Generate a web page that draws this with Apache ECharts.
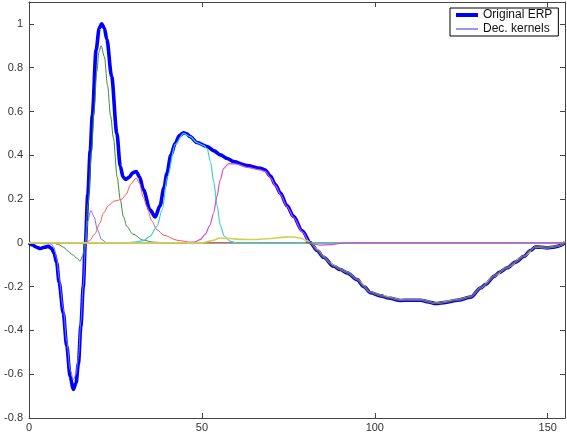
<!DOCTYPE html>
<html>
<head>
<meta charset="utf-8">
<script src="https://cdn.jsdelivr.net/npm/echarts@6/dist/echarts.min.js"></script>
<style>html,body{margin:0;padding:0;background:#fff}#c{width:567px;height:434px}</style>
</head>
<body>
<div id="c"></div>
<script>
// Axis settings
const xTicks = [0, 50, 100, 150];
const yTicks = [-0.8, -0.6, -0.4, -0.2, 0, 0.2, 0.4, 0.6, 0.8, 1];

// Original ERP [time, amplitude]
const erp = [[0,0],[1,-0.01],[2.2,-0.02],[3.2,-0.026],[4.5,-0.02],[5.6,-0.016],[6.5,-0.025],[7.2,-0.045],[8,-0.09],[8.7,-0.18],[9.9,-0.32],[10.9,-0.47],[11.9,-0.61],[12.8,-0.67],[13.6,-0.64],[14.3,-0.55],[15,-0.38],[15.7,-0.2],[16.3,0],[17,0.22],[17.7,0.42],[18.3,0.58],[19.4,0.88],[20.3,0.98],[21,1.0],[21.8,0.98],[22.5,0.93],[23.9,0.76],[25.4,0.5],[26.4,0.35],[27.2,0.3],[28,0.29],[29,0.3],[30,0.32],[31,0.326],[32,0.3],[33.1,0.242],[35,0.151],[36.5,0.118],[37.9,0.17],[39,0.25],[39.9,0.318],[41,0.4],[42.3,0.455],[43.5,0.49],[44.7,0.503],[45.6,0.498],[46.6,0.485],[48.6,0.458],[51.5,0.44],[53.5,0.42],[55.3,0.402],[57.3,0.385],[59.2,0.371],[63,0.353],[66.9,0.341],[68.3,0.333],[69.8,0.305],[71.3,0.265],[72.7,0.227],[74.6,0.17],[76.5,0.121],[79,0.055],[81.4,0],[83.3,-0.035],[85.2,-0.066],[88.1,-0.107],[90,-0.122],[92,-0.137],[94.9,-0.168],[96.8,-0.2],[98.8,-0.228],[101.7,-0.242],[104,-0.252],[107.4,-0.263],[110,-0.262],[113.2,-0.262],[115.5,-0.27],[117.6,-0.277],[120.5,-0.272],[123.9,-0.262],[127.7,-0.248],[130.6,-0.206],[132,-0.19],[134.5,-0.153],[136,-0.135],[138.3,-0.114],[140.7,-0.088],[143.2,-0.061],[145,-0.035],[146.5,-0.019],[148,-0.02],[149.9,-0.023],[151.5,-0.02],[152.8,-0.016],[155,0]];

// Decomposition kernels
const kernelBlue = [[0,0],[6.5,-0.005],[7.2,-0.02],[8,-0.07],[8.7,-0.16],[9.9,-0.3],[10.9,-0.45],[11.9,-0.58],[12.8,-0.625],[13.6,-0.6],[14.3,-0.52],[15,-0.36],[15.7,-0.19],[16.3,-0.02],[17,0.1],[17.9,0.148],[18.8,0.12],[19.8,0.06],[21,0.015],[22.5,0],[155,0]];
const kernelGreen = [[0,0],[7,0],[8.5,-0.008],[10,-0.02],[11.4,-0.039],[12.6,-0.055],[13.8,-0.069],[14.8,-0.084],[15.5,-0.06],[16.2,0],[17.1,0.18],[18.1,0.42],[18.8,0.6],[19.6,0.78],[20.2,0.87],[20.85,0.9],[21.8,0.85],[22.7,0.72],[23.6,0.58],[24.4,0.48],[25.5,0.3],[26.4,0.197],[27.3,0.12],[28.3,0.075],[30,0.04],[33.1,0.012],[36,0.003],[40,0],[155,0]];
const kernelRed = [[0,0],[16.5,0],[17.5,0.01],[19,0.04],[20.5,0.09],[21.5,0.136],[23,0.17],[24.5,0.19],[25.9,0.195],[26.9,0.2],[28,0.22],[29.5,0.27],[31,0.296],[32,0.27],[33,0.21],[34.1,0.166],[35.5,0.1],[37,0.06],[39,0.035],[42.8,0.012],[47,0.002],[50,0],[155,0]];
const kernelCyan = [[0,0],[28,0],[31,0.005],[33.1,0.01],[35,0.03],[37,0.075],[38.5,0.15],[40,0.3],[42.3,0.45],[44.7,0.5],[46.6,0.485],[48.6,0.458],[50.5,0.445],[51.5,0.43],[52.5,0.37],[53.4,0.28],[54.4,0.17],[55.3,0.08],[56.5,0.03],[58.2,0.007],[60,0],[155,0]];
const kernelMagenta = [[0,0],[45,0],[48,0.005],[49.5,0.015],[51,0.04],[52.3,0.08],[53.4,0.136],[54.3,0.21],[55.3,0.288],[56.3,0.34],[57.7,0.362],[60,0.36],[63,0.345],[66.9,0.333],[68.3,0.326],[69.8,0.298],[71.3,0.26],[72.7,0.222],[74.6,0.166],[76.5,0.117],[79,0.05],[81.4,-0.003],[84,-0.01],[87,-0.008],[90,-0.003],[93,0],[155,0]];
const kernelYellow = [[0,0],[50,0],[53,0.01],[55.3,0.022],[58,0.02],[61,0.016],[64.9,0.015],[70,0.02],[74,0.026],[76.5,0.027],[78.5,0.022],[80.3,0.01],[81.5,0],[83.3,-0.03],[85.2,-0.063],[87,-0.09],[88.1,-0.103],[90,-0.12],[92,-0.135],[94.9,-0.166],[98.8,-0.226],[101.7,-0.24],[107.4,-0.26],[113.2,-0.26],[117.6,-0.275],[123.9,-0.26],[127.7,-0.246],[130.6,-0.205],[134.5,-0.152],[138.3,-0.113],[143.2,-0.06],[146.5,-0.019],[149.9,-0.022],[152.8,-0.015],[155,0]];
const kernelBlack = [[80,0.004],[81.4,0],[83.3,-0.034],[85.2,-0.065],[88.1,-0.106],[90,-0.121],[92,-0.136],[94.9,-0.167],[96.8,-0.199],[98.8,-0.227],[101.7,-0.241],[104,-0.251],[107.4,-0.262],[110,-0.261],[113.2,-0.261],[115.5,-0.269],[117.6,-0.276],[120.5,-0.271],[123.9,-0.261],[127.7,-0.247],[130.6,-0.205],[132,-0.189],[134.5,-0.152],[136,-0.134],[138.3,-0.113],[140.7,-0.087],[143.2,-0.06],[145,-0.034],[146.5,-0.018],[148,-0.019],[149.9,-0.022],[151.5,-0.019],[152.8,-0.015],[155,0]];

const font = 'Liberation Sans, Arial, sans-serif';
const axisColor = '#444';
const chart = echarts.init(document.getElementById('c'), null, {renderer: 'canvas'});

function thin(name, data, color, width, opacity) {
  return {
    name: name, type: 'line', data: data, symbol: 'none', smooth: 0.3, smoothMonotone: 'x',
    lineStyle: {color: color, width: width || 1, opacity: opacity == null ? 1 : opacity},
    itemStyle: {color: color}, z: 3, silent: true
  };
}

const xBase = {type: 'value', min: xTicks[0], max: 155, interval: xTicks[1] - xTicks[0],
  splitLine: {show: false},
  axisLine: {onZero: false, lineStyle: {color: axisColor, width: 1}},
  axisTick: {inside: true, length: 5, lineStyle: {color: axisColor}}};
const yBase = {type: 'value', min: yTicks[0], max: 1.1, interval: 0.2,
  splitLine: {show: false},
  axisLine: {onZero: false, lineStyle: {color: axisColor, width: 1}},
  axisTick: {inside: true, length: 5, lineStyle: {color: axisColor}}};

// legend icons: horizontal stripes inside a 22x14 box (tiny corner dots fix the box)
const thickIcon = 'path://M0,5L22,5L22,9L0,9Z M0,0L0.01,0L0.01,0.01Z M22,14L21.99,14L21.99,13.99Z';
const thinIcon = 'path://M0,6.5L22,6.5L22,7.5L0,7.5Z M0,0L0.01,0L0.01,0.01Z M22,14L21.99,14L21.99,13.99Z';

chart.setOption({
  animation: false,
  backgroundColor: '#fff',
  grid: {left: 29, right: 2, top: 2, bottom: 16, containLabel: false},
  xAxis: [
    Object.assign({}, xBase, {position: 'bottom',
      axisLabel: {show: true, showMaxLabel: false, color: '#333', fontSize: 11, fontFamily: font, margin: 4}}),
    Object.assign({}, xBase, {position: 'top', axisLabel: {show: false}})
  ],
  yAxis: [
    Object.assign({}, yBase, {position: 'left',
      axisLabel: {show: true, showMaxLabel: false, color: '#333', fontSize: 11, fontFamily: font, margin: 6,
        formatter: v => String(Math.round(v * 10) / 10)}}),
    Object.assign({}, yBase, {position: 'right', axisLabel: {show: false}})
  ],
  legend: {
    orient: 'vertical', left: 450, top: 8,
    padding: [0, 6, 0, 6], itemGap: 0, itemWidth: 22, itemHeight: 14,
    backgroundColor: '#fff', borderColor: '#000', borderWidth: 1, borderRadius: 0,
    itemStyle: {borderWidth: 0},
    textStyle: {color: '#111', fontSize: 12, fontFamily: font},
    data: [
      {name: 'Original ERP', icon: thickIcon, itemStyle: {color: '#0000ff', borderWidth: 0}},
      {name: 'Dec. kernels', icon: thinIcon, itemStyle: {color: '#3030ff', borderWidth: 0}}
    ]
  },
  series: [
    {name: 'Original ERP', type: 'line', data: erp, symbol: 'none', smooth: 0.3, smoothMonotone: 'x',
     lineStyle: {color: '#0000ff', width: 3.6}, itemStyle: {color: '#0000ff'}, z: 2, silent: true},
    thin('Dec. kernels', kernelBlue, '#7070ff', 1),
    thin('k2', kernelGreen, '#3a8a3a', 1),
    thin('k3', kernelRed, '#ff5555', 1),
    thin('k4', kernelCyan, '#3fcfcf', 1.2),
    thin('k5', kernelMagenta, '#d050d0', 1.2),
    thin('k6', kernelYellow, '#d0d050', 1.6),
    thin('k7', kernelBlack, '#606070', 1.6)
  ]
});
</script>
</body>
</html>
